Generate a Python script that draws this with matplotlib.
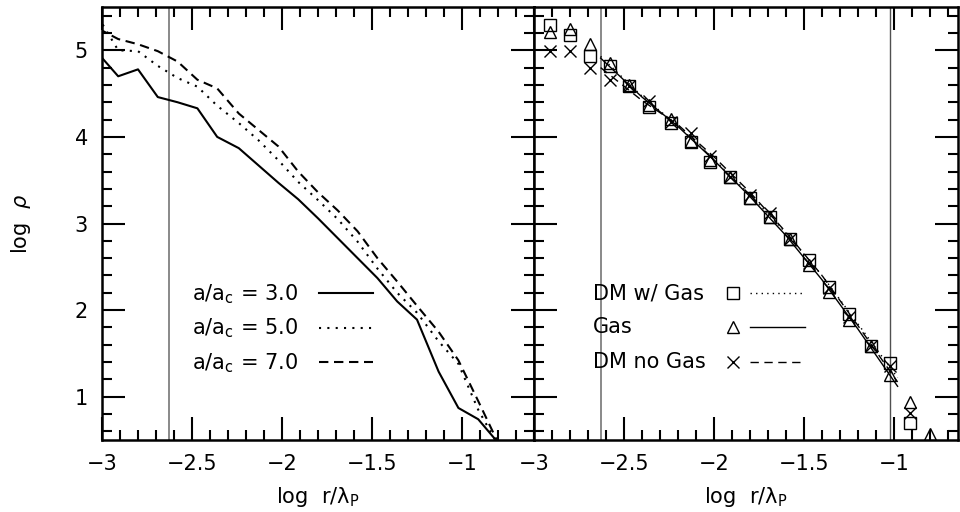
import matplotlib
matplotlib.use("Agg")
import matplotlib.pyplot as plt
import numpy as np
from matplotlib.ticker import MultipleLocator, FuncFormatter

plt.rcParams['font.family'] = ['DejaVu Sans']
plt.rcParams['mathtext.fontset'] = 'dejavusans'
plt.rcParams['font.size'] = 15

# ---- left panel: density profiles at three expansion factors ----
r_left = [-3.02, -2.91, -2.80, -2.69, -2.58, -2.47, -2.36, -2.24, -2.13, -2.02,
          -1.91, -1.80, -1.69, -1.58, -1.47, -1.36, -1.25, -1.13, -1.02, -0.91, -0.80]
rho_a3 = [4.96, 4.70, 4.78, 4.46, 4.40, 4.33, 4.00, 3.87, 3.67, 3.47,
          3.28, 3.06, 2.83, 2.60, 2.37, 2.10, 1.89, 1.29, 0.87, 0.74, 0.47]
rho_a5 = [5.38, 5.00, 4.99, 4.82, 4.68, 4.58, 4.36, 4.16, 3.96, 3.73,
          3.48, 3.27, 3.05, 2.79, 2.48, 2.20, 1.97, 1.64, 1.38, 0.85, 0.44]
rho_a7 = [5.25, 5.13, 5.07, 4.99, 4.87, 4.66, 4.56, 4.27, 4.08, 3.89,
          3.60, 3.36, 3.15, 2.91, 2.60, 2.33, 2.05, 1.75, 1.42, 0.95, 0.47]
labels_left = [r'a/a$_{\rm c}$ = 3.0', r'a/a$_{\rm c}$ = 5.0', r'a/a$_{\rm c}$ = 7.0']

# ---- right panel: binned profiles and fits ----
r_bins = [-2.91, -2.80, -2.69, -2.58, -2.47, -2.36, -2.24, -2.13, -2.02, -1.91,
          -1.80, -1.69, -1.58, -1.47, -1.36, -1.25, -1.13, -1.02, -0.91, -0.80]
rho_dm_gas = [5.29, 5.18, 4.93, 4.82, 4.59, 4.34, 4.16, 3.94, 3.71, 3.54,
              3.29, 3.08, 2.82, 2.58, 2.27, 1.95, 1.59, 1.39, 0.70, np.nan]
rho_gas = [5.21, 5.25, 5.07, 4.85, 4.60, 4.37, 4.21, 3.95, 3.73, 3.54,
           3.29, 3.08, 2.82, 2.52, 2.21, 1.89, 1.59, 1.25, 0.94, 0.57]
rho_dm_nogas = [4.99, 4.99, 4.79, 4.66, 4.59, 4.41, 4.17, 4.04, 3.78, 3.54,
                3.33, 3.12, 2.82, 2.54, 2.25, 1.92, 1.59, 1.35, 0.81, np.nan]

r_fit = [-2.63, -2.40, -2.20, -2.00, -1.80, -1.60, -1.40, -1.20, -0.98]
fit_dm_gas = [4.93, 4.47, 4.13, 3.74, 3.33, 2.89, 2.40, 1.84, 1.22]
fit_gas = [4.91, 4.46, 4.12, 3.73, 3.31, 2.86, 2.35, 1.78, 1.12]
fit_dm_nogas = [4.80, 4.42, 4.14, 3.77, 3.36, 2.90, 2.40, 1.82, 1.17]
labels_right = ['DM w/ Gas', 'Gas', 'DM no Gas']

# fitting range markers
r_soft = -2.63
r_outer = -1.02

W, H = 960, 512
fig = plt.figure(figsize=(W / 100, H / 100), dpi=100)
axL = fig.add_axes([102 / W, 72 / H, 432 / W, 433 / H])
axR = fig.add_axes([534 / W, 72 / H, 424 / W, 433 / H])

fmt = FuncFormatter(lambda v, p: f'{v:g}'.replace('-', '\u2212'))
for ax, xmax in ((axL, -0.6), (axR, -3 + 424 / 180)):
    ax.set_xlim(-3, xmax)
    ax.set_ylim(0.5, 5.5)
    ax.xaxis.set_major_locator(MultipleLocator(0.5))
    ax.xaxis.set_minor_locator(MultipleLocator(0.1))
    ax.yaxis.set_major_locator(MultipleLocator(1))
    ax.yaxis.set_minor_locator(MultipleLocator(0.2))
    ax.xaxis.set_major_formatter(fmt)
    ax.yaxis.set_major_formatter(fmt)
    ax.tick_params(which='both', direction='in', top=True, right=True,
                   width=1.5, color='black', labelsize=15, pad=10)
    ax.tick_params(which='major', length=16.5)
    ax.tick_params(which='minor', length=7.5)
    for s in ax.spines.values():
        s.set_linewidth(1.8)
    ax.set_xlabel('log  r/λ$_{\\rm P}$', fontsize=15, labelpad=8)

axR.tick_params(labelleft=False)
axL.set_ylabel(r'log  $\rho$', fontsize=15)
axL.yaxis.set_label_coords(-0.16, 0.5)

# left panel
axL.axvline(r_soft, color='#808080', lw=1.3, zorder=1)
lw = 1.5
axL.plot(r_left, rho_a3, color='black', lw=lw, ls='-')
axL.plot(r_left, rho_a5, color='black', lw=lw, dashes=(1, 3))
axL.plot(r_left, rho_a7, color='black', lw=lw, dashes=(4.5, 2.7))

# key for the left panel: label, then line sample
key_styles_left = [dict(ls='-'), dict(dashes=(1, 3)), dict(dashes=(4.5, 2.7))]
key_rows_left = [0.339, 0.259, 0.180]
for lab, st, yk in zip(labels_left, key_styles_left, key_rows_left):
    axL.text(0.208, yk - 0.016, lab, transform=axL.transAxes, ha='left',
             va='baseline', fontsize=15)
    axL.plot([0.502, 0.627], [yk, yk], transform=axL.transAxes, color='black',
             lw=lw, clip_on=False, **st)

# right panel
axR.axvline(r_soft, color='#808080', lw=1.3, zorder=1)
axR.axvline(r_outer, color='#505050', lw=1.0, zorder=1)
mk = dict(color='black', mfc='none', mec='black', mew=1.0, ls='none')
axR.plot(r_bins, rho_dm_gas, marker='s', ms=8, **mk)
axR.plot(r_bins, rho_gas, marker='^', ms=9, **mk)
axR.plot(r_bins, rho_dm_nogas, marker='x', ms=8, **mk)
axR.plot(r_fit, fit_dm_gas, color='black', lw=1.0, dashes=(1, 3))
axR.plot(r_fit, fit_gas, color='black', lw=1.0, ls='-')
axR.plot(r_fit, fit_dm_nogas, color='black', lw=1.0, dashes=(6, 4))

# key for the right panel: label, marker, line sample
key_markers = [('s', 8), ('^', 9), ('x', 8)]
key_styles_right = [dict(dashes=(1, 3)), dict(ls='-'), dict(dashes=(6, 4))]
key_rows_right = [0.339, 0.261, 0.180]
for lab, (m, s), st, yk in zip(labels_right, key_markers, key_styles_right,
                               key_rows_right):
    axR.text(0.139, yk - 0.014, lab, transform=axR.transAxes, ha='left',
             va='baseline', fontsize=15)
    axR.plot([0.469], [yk], transform=axR.transAxes, marker=m, ms=s,
             clip_on=False, **mk)
    axR.plot([0.509, 0.639], [yk, yk], transform=axR.transAxes, color='black',
             lw=1.0, clip_on=False, **st)

fig.savefig('out.png', dpi=100)
